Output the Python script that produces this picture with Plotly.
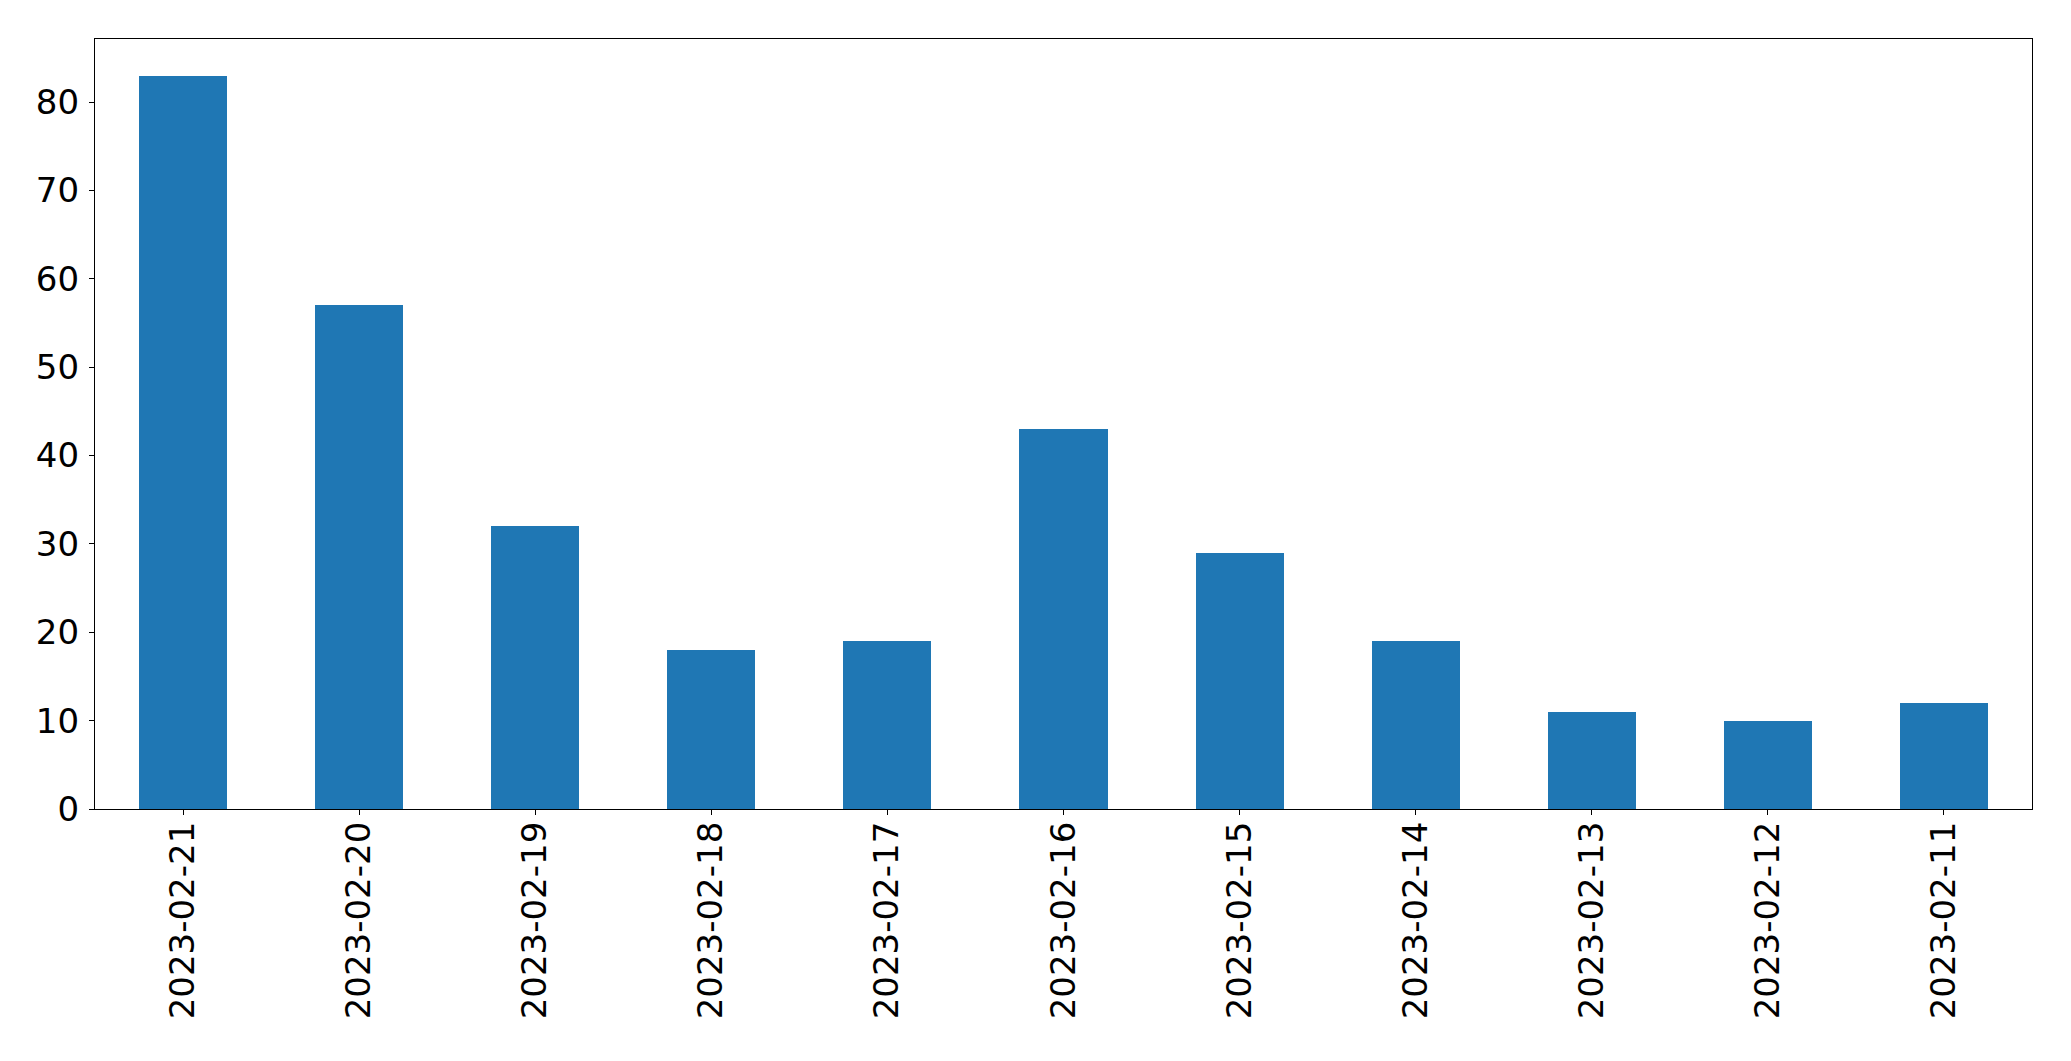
import plotly.graph_objects as go

dates = ["2023-02-21", "2023-02-20", "2023-02-19", "2023-02-18", "2023-02-17",
         "2023-02-16", "2023-02-15", "2023-02-14", "2023-02-13", "2023-02-12", "2023-02-11"]
counts = [83, 57, 32, 18, 19, 43, 29, 19, 11, 10, 12]
y_ticks = [0, 10, 20, 30, 40, 50, 60, 70, 80]

fig = go.Figure(go.Bar(x=dates, y=counts, width=0.5, marker=dict(color="#1f77b4", line=dict(width=0))))

font = dict(family="DejaVu Sans", size=34, color="black")
# page body has an 8px margin; compensate so plot area lands at 95..2032 x 39..809
fig.update_layout(
    width=2063, height=1053,
    margin=dict(l=87, r=39, t=31, b=252),
    plot_bgcolor="white", paper_bgcolor="white",
    showlegend=False,
    bargap=0,
)
fig.update_xaxes(type="category", range=[-0.5, 10.5], showgrid=False, zeroline=False,
                 showline=True, linecolor="black", linewidth=1.3, mirror=True,
                 ticks="outside", ticklen=5, tickwidth=1.3, tickcolor="black",
                 tickangle=-90, tickfont=font, ticklabelstandoff=-7)
fig.update_yaxes(range=[0, 87.15], showgrid=False, zeroline=False,
                 showline=True, linecolor="black", linewidth=1.3, mirror=True,
                 ticks="outside", ticklen=5, tickwidth=1.3, tickcolor="black",
                 tickvals=y_ticks, tickfont=font, ticklabelstandoff=3)

fig.write_html("out.html")
